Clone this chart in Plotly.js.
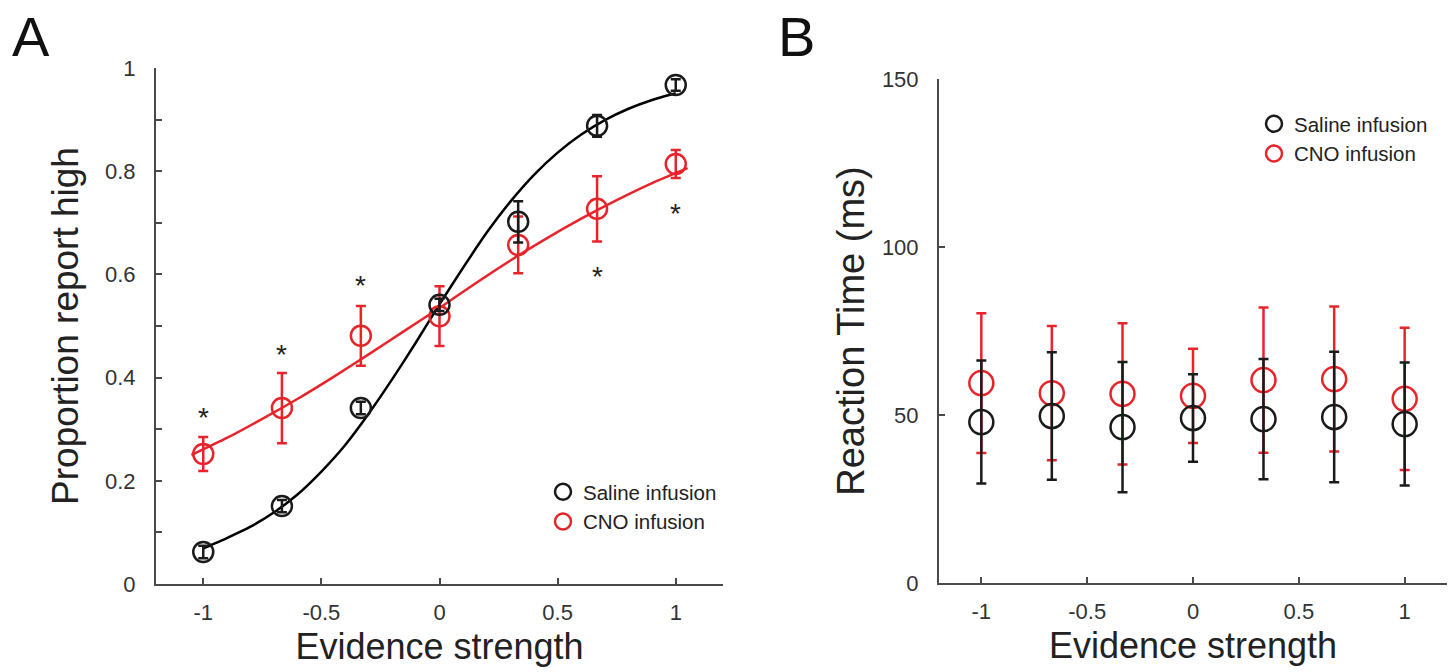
<!DOCTYPE html>
<html>
<head>
<meta charset="utf-8">
<script src="https://cdn.plot.ly/plotly-3.0.1.min.js"></script>
<style>html,body{margin:0;padding:0;background:#fff;}#chart{width:1455px;height:672px;}</style>
</head>
<body>
<div id="chart"></div>
<script>
// ---- data ----
const evidence = [-1, -0.667, -0.333, 0, 0.333, 0.667, 1];
const evidenceTicks = [-1, -0.5, 0, 0.5, 1];
const evidenceTickText = ['-1', '-0.5', '0', '0.5', '1'];

// Panel A: proportion report high
const salineProp = [0.062, 0.151, 0.341, 0.541, 0.702, 0.888, 0.967];
const salinePropErr = [0.012, 0.012, 0.012, 0.012, 0.040, 0.021, 0.011];
const cnoProp = [0.252, 0.341, 0.481, 0.519, 0.657, 0.727, 0.814];
const cnoPropErr = [0.033, 0.068, 0.058, 0.058, 0.055, 0.063, 0.027];

// Fitted curves
const salineFitX = [-1, -0.9, -0.8, -0.7, -0.6, -0.5, -0.4, -0.3, -0.2, -0.1, 0, 0.1, 0.2, 0.3, 0.4, 0.5, 0.6, 0.7, 0.8, 0.9, 1];
const salineFitY = [0.069, 0.089, 0.111, 0.139, 0.174, 0.218, 0.269, 0.330, 0.397, 0.468, 0.542, 0.613, 0.681, 0.741, 0.793, 0.836, 0.871, 0.899, 0.921, 0.938, 0.951];
const cnoFitX = [-1.05, -0.9, -0.75, -0.6, -0.45, -0.3, -0.15, 0, 0.15, 0.3, 0.45, 0.6, 0.75, 0.9, 1.05];
const cnoFitY = [0.250, 0.283, 0.320, 0.359, 0.401, 0.445, 0.490, 0.535, 0.582, 0.627, 0.669, 0.708, 0.744, 0.777, 0.806];

// Significance markers
const sigX = [-1, -0.667, -0.333, 0.667, 1];
const sigY = [0.333, 0.455, 0.589, 0.605, 0.727];

// Panel B: reaction time (ms)
const salineRT = [47.9, 49.7, 46.4, 49.1, 48.8, 49.4, 47.3];
const salineRTErr = [18.3, 19.0, 19.4, 13.0, 17.9, 19.4, 18.3];
const cnoRT = [59.5, 56.5, 56.3, 55.7, 60.4, 60.7, 54.8];
const cnoRTErr = [20.8, 20.0, 21.0, 14.0, 21.6, 21.6, 21.2];

const seriesNames = ['Saline infusion', 'CNO infusion'];
const panelLabels = ['A', 'B'];

// ---- styles ----
const BLACK = '#1a1a1a';
const RED = '#e8242b';
const AX = '#4a4a4a';
const FONT = 'Liberation Sans, Arial, Helvetica, sans-serif';

function pts(x, y, err, color, name, xa, ya, size, legend, rank) {
  return {
    x: x, y: y, type: 'scatter', mode: 'markers', name: name,
    xaxis: xa, yaxis: ya, legend: legend, legendrank: rank, showlegend: true,
    cliponaxis: false,
    marker: {symbol: 'circle-open', size: size, color: color, line: {color: color, width: 2.5}},
    error_y: {type: 'data', array: err, visible: true, color: color, thickness: 2.5, width: 5}
  };
}

const traces = [
  {x: cnoFitX, y: cnoFitY, type: 'scatter', mode: 'lines', line: {color: RED, width: 2.5, shape: 'spline', smoothing: 0.6}, showlegend: false, xaxis: 'x', yaxis: 'y', hoverinfo: 'skip'},
  {x: salineFitX, y: salineFitY, type: 'scatter', mode: 'lines', line: {color: '#000', width: 2.5, shape: 'spline', smoothing: 0.6}, showlegend: false, xaxis: 'x', yaxis: 'y', hoverinfo: 'skip'},
  pts(evidence, cnoProp, cnoPropErr, RED, seriesNames[1], 'x', 'y', 20, 'legend', 2),
  pts(evidence, salineProp, salinePropErr, BLACK, seriesNames[0], 'x', 'y', 20, 'legend', 1),
  pts(evidence, cnoRT, cnoRTErr, RED, seriesNames[1], 'x2', 'y2', 24, 'legend2', 2),
  pts(evidence, salineRT, salineRTErr, BLACK, seriesNames[0], 'x2', 'y2', 24, 'legend2', 1)
];

const tickFont = {family: FONT, size: 22, color: '#333'};

function xaxisDef(domain, anchor) {
  return {
    domain: domain, anchor: anchor, range: [-1.2, 1.2],
    tickmode: 'array', tickvals: evidenceTicks, ticktext: evidenceTickText,
    ticks: 'inside', ticklen: 6, tickwidth: 2, tickcolor: AX,
    showline: true, linecolor: AX, linewidth: 2, showgrid: false, zeroline: false,
    tickfont: tickFont, ticklabelstandoff: 8,
    title: {text: 'Evidence strength', font: {family: FONT, size: 36, color: '#222'}, standoff: 9},
    automargin: false
  };
}

const layout = {
  width: 1455, height: 672, autosize: false,
  margin: {l: 0, r: 0, t: 0, b: 0},
  paper_bgcolor: '#fff', plot_bgcolor: '#fff',
  font: {family: FONT, color: '#222'},
  xaxis: xaxisDef([156/1455, 723/1455], 'y'),
  yaxis: {
    domain: [88/672, 604/672], anchor: 'x', range: [0, 1],
    tickmode: 'linear', tick0: 0, dtick: 0.2,
    ticks: 'inside', ticklen: 6, tickwidth: 2, tickcolor: AX,
    minor: {dtick: 0.1, ticks: 'inside', ticklen: 6, tickwidth: 2, tickcolor: AX},
    showline: true, linecolor: AX, linewidth: 2, showgrid: false, zeroline: false,
    tickfont: tickFont, ticklabelstandoff: 14,
    title: {text: 'Proportion report high', font: {family: FONT, size: 37, color: '#222'}, standoff: 15},
    automargin: false
  },
  xaxis2: xaxisDef([939/1455, 1447/1455], 'y2'),
  yaxis2: {
    domain: [89/672, 593/672], anchor: 'x2', range: [0, 150],
    tickmode: 'array', tickvals: [0, 50, 100, 150],
    ticks: 'inside', ticklen: 6, tickwidth: 2, tickcolor: AX,
    showline: true, linecolor: AX, linewidth: 2, showgrid: false, zeroline: false,
    tickfont: tickFont, ticklabelstandoff: 14,
    title: {text: 'Reaction Time (ms)', font: {family: FONT, size: 38, color: '#222'}, standoff: 6},
    automargin: false
  },
  legend: {
    x: 543/1455, y: (672-472)/672, xanchor: 'left', yanchor: 'top',
    bgcolor: 'rgba(0,0,0,0)', borderwidth: 0,
    font: {family: FONT, size: 20.5, color: '#222'}, traceorder: 'normal'
  },
  legend2: {
    x: 1254/1455, y: (672-104)/672, xanchor: 'left', yanchor: 'top',
    bgcolor: 'rgba(0,0,0,0)', borderwidth: 0,
    font: {family: FONT, size: 20.5, color: '#222'}, traceorder: 'normal'
  },
  annotations: []
};

sigX.forEach(function (x, i) {
  layout.annotations.push({
    x: x, y: sigY[i], xref: 'x', yref: 'y', text: '*', showarrow: false,
    xanchor: 'center', yanchor: 'middle', yshift: -5,
    font: {family: FONT, size: 28, color: '#222'}
  });
});

layout.annotations.push({
  x: 31/1455, y: (672-36)/672, xref: 'paper', yref: 'paper', text: panelLabels[0],
  showarrow: false, xanchor: 'center', yanchor: 'middle',
  font: {family: FONT, size: 56, color: '#111'}
});
layout.annotations.push({
  x: 796/1455, y: (672-36)/672, xref: 'paper', yref: 'paper', text: panelLabels[1],
  showarrow: false, xanchor: 'center', yanchor: 'middle',
  font: {family: FONT, size: 56, color: '#111'}
});

Plotly.newPlot('chart', traces, layout, {displayModeBar: false, staticPlot: true});
</script>
</body>
</html>
